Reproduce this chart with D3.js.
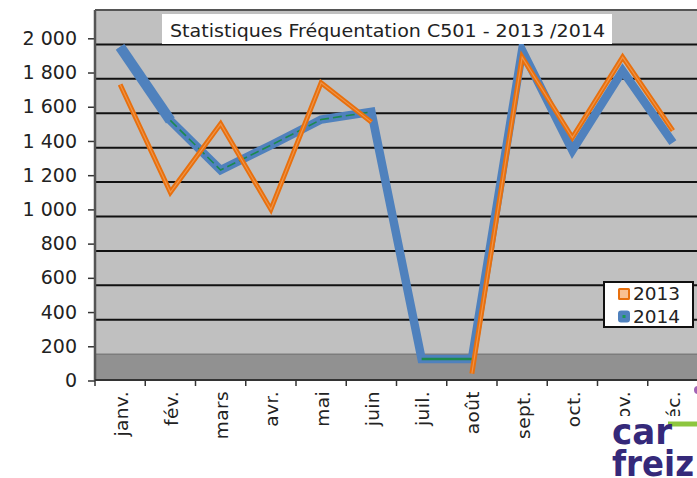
<!DOCTYPE html>
<html>
<head>
<meta charset="utf-8">
<script src="https://cdn.jsdelivr.net/npm/d3@7"></script>
<style>
  html, body { margin: 0; padding: 0; background: #fff; }
  svg { display: block; font-family: "DejaVu Sans", Verdana, sans-serif; }
</style>
</head>
<body>
<svg id="chart" width="697" height="478"></svg>
<script>
// Monthly visits, station C501
const months = ["janv.", "fév.", "mars", "avr.", "mai", "juin", "juil.", "août", "sept.", "oct.", "nov.", "déc."];
const visits2013 = [1730, 1100, 1500, 1000, 1740, 1510, null, 40, 1890, 1420, 1890, 1460];
const visits2014 = [1950, 1520, 1230, 1375, 1525, 1570, 125, 125, 1930, 1345, 1810, 1390];
const yTickValues = [0, 200, 400, 600, 800, 1000, 1200, 1400, 1600, 1800, 2000];
const seriesNames = ["2013", "2014"];
const chartTitle = "Statistiques Fréquentation C501 - 2013 /2014";

const svg = d3.select("#chart");
const W = 697, H = 478;
const plot = { left: 95, right: 698, top: 10, bottom: 380 };

const x = d3.scaleBand().domain(months).range([plot.left, plot.right]);
const cx = m => x(m) + x.bandwidth() / 2;
// front axis scale and the slightly receding back wall used for the gridlines
const y = d3.scaleLinear().domain([0, 2000]).range([380.5, 38.3]);
const yWall = d3.scaleLinear().domain([0, 2000]).range([388.6, 44.4]);

const frLocale = d3.formatLocale({ decimal: ",", thousands: " ", grouping: [3], currency: ["", " €"] });
const fmt = frLocale.format(",d");

// plot wall
svg.append("rect")
  .attr("x", plot.left).attr("y", plot.top)
  .attr("width", W - plot.left).attr("height", plot.bottom - plot.top)
  .attr("fill", "#c0c0c0");

// floor band
svg.append("rect")
  .attr("x", plot.left).attr("y", yWall(200))
  .attr("width", W - plot.left).attr("height", plot.bottom - yWall(200))
  .attr("fill", "#919191");
svg.append("line")
  .attr("x1", plot.left).attr("x2", W)
  .attr("y1", yWall(200)).attr("y2", yWall(200))
  .attr("stroke", "#7c7c7c").attr("stroke-width", 1.5);

// gridlines on the back wall
svg.append("g").selectAll("line")
  .data(yTickValues.filter(v => v >= 400))
  .join("line")
  .attr("x1", plot.left).attr("x2", W)
  .attr("y1", d => yWall(d)).attr("y2", d => yWall(d))
  .attr("stroke", "#111").attr("stroke-width", 2);

// top edge of the wall
svg.append("line")
  .attr("x1", plot.left).attr("x2", W)
  .attr("y1", plot.top).attr("y2", plot.top)
  .attr("stroke", "#555").attr("stroke-width", 2);

// y axis
const yAxis = svg.append("g")
  .attr("transform", `translate(${plot.left},0)`)
  .call(d3.axisLeft(y).tickValues(yTickValues).tickFormat(fmt).tickSize(7).tickPadding(11));
yAxis.select(".domain").remove();
yAxis.selectAll(".tick line").attr("stroke", "#333").attr("stroke-width", 1.5);
yAxis.selectAll(".tick text").attr("font-size", 19).attr("fill", "#222")
  .attr("font-family", "DejaVu Sans, Verdana, sans-serif");
svg.append("line")
  .attr("x1", plot.left).attr("x2", plot.left)
  .attr("y1", plot.top).attr("y2", plot.bottom)
  .attr("stroke", "#555").attr("stroke-width", 2.5);

// x axis line and category boundary ticks
svg.append("line")
  .attr("x1", plot.left).attr("x2", W)
  .attr("y1", plot.bottom).attr("y2", plot.bottom)
  .attr("stroke", "#333").attr("stroke-width", 2);
svg.append("g").selectAll("line")
  .data(months)
  .join("line")
  .attr("x1", d => x(d)).attr("x2", d => x(d))
  .attr("y1", plot.bottom).attr("y2", plot.bottom + 6)
  .attr("stroke", "#333").attr("stroke-width", 1.5);

// month labels
svg.append("g").selectAll("text")
  .data(months)
  .join("text")
  .attr("transform", d => `translate(${cx(d) + 1},${plot.bottom + 11}) rotate(-90)`)
  .attr("text-anchor", "end")
  .attr("dy", "0.35em")
  .attr("font-size", 18.5)
  .attr("letter-spacing", 0.4)
  .attr("fill", "#222")
  .text(d => d);

// series lines
const line = d3.line()
  .defined(d => d != null)
  .x((d, i) => cx(months[i]))
  .y(d => y(d));

// 2014: broad blue stroke with a thin green dashed core
svg.append("path")
  .attr("d", line(visits2014))
  .attr("fill", "none")
  .attr("stroke", "#4f81bd")
  .attr("stroke-width", 8.5)
  .attr("stroke-linejoin", "miter");
svg.append("path")
  .attr("d", line(visits2014.map((v, i) => i <= 1 ? v : null)))
  .attr("fill", "none")
  .attr("stroke", "#4f81bd")
  .attr("stroke-width", 10.5);
svg.append("path")
  .attr("d", line(visits2014.map((v, i) => (i >= 1 && i <= 5) ? v : null)))
  .attr("fill", "none")
  .attr("stroke", "#1c8a4e")
  .attr("stroke-width", 1.6)
  .attr("stroke-dasharray", "9,4");
svg.append("path")
  .attr("d", line(visits2014.map((v, i) => (i >= 6 && i <= 7) ? v : null)))
  .attr("fill", "none")
  .attr("stroke", "#1c8a4e")
  .attr("stroke-width", 2.5);

// 2013: orange stroke with a lighter core
svg.append("path")
  .attr("d", line(visits2013))
  .attr("fill", "none")
  .attr("stroke", "#e8700e")
  .attr("stroke-width", 5)
  .attr("stroke-linejoin", "miter");
svg.append("path")
  .attr("d", line(visits2013))
  .attr("fill", "none")
  .attr("stroke", "#f6b079")
  .attr("stroke-width", 1.2)
  .attr("stroke-opacity", 0.55);

// title
const titleG = svg.append("g");
titleG.append("rect")
  .attr("x", 162).attr("y", 14).attr("width", 450).attr("height", 30)
  .attr("fill", "#fff");
titleG.append("text")
  .attr("x", 170).attr("y", 36.5)
  .attr("font-size", 18)
  .attr("fill", "#222")
  .attr("textLength", 435)
  .attr("lengthAdjust", "spacingAndGlyphs")
  .text(chartTitle);

// legend
const legend = svg.append("g");
legend.append("rect")
  .attr("x", 604).attr("y", 282).attr("width", 89).attr("height", 45)
  .attr("fill", "#fff").attr("stroke", "#111").attr("stroke-width", 2);
const legendRows = legend.selectAll("g.row")
  .data(seriesNames)
  .join("g")
  .attr("class", "row")
  .attr("transform", (d, i) => `translate(618,${288 + i * 22.5})`);
legendRows.append("rect")
  .attr("x", 1).attr("y", 1).attr("width", 10).attr("height", 10)
  .attr("rx", (d, i) => i === 0 ? 0.5 : 2)
  .attr("fill", (d, i) => i === 0 ? "#f9c091" : "#4f81bd")
  .attr("stroke", (d, i) => i === 0 ? "#e8700e" : "#4f81bd")
  .attr("stroke-width", 2);
legendRows.filter((d, i) => i === 1).append("rect")
  .attr("x", 4.5).attr("y", 4.5).attr("width", 3).attr("height", 3)
  .attr("fill", "#1c9a50");
legendRows.append("text")
  .attr("x", 15).attr("y", 12)
  .attr("font-size", 18.5)
  .attr("fill", "#222")
  .text(d => d);

// club logo in the lower right corner
const logo = svg.append("g");
logo.append("rect")
  .attr("x", 611).attr("y", 416).attr("width", W - 611).attr("height", H - 416)
  .attr("fill", "#fff");
logo.append("line")
  .attr("x1", 668).attr("x2", W).attr("y1", 424).attr("y2", 424)
  .attr("stroke", "#8dc63f").attr("stroke-width", 5);
logo.append("circle")
  .attr("cx", 698).attr("cy", 390).attr("r", 4)
  .attr("fill", "#a263b5");
const logoText = logo.append("text")
  .attr("font-size", 36).attr("font-weight", "bold")
  .attr("fill", "#35297a")
  .attr("lengthAdjust", "spacingAndGlyphs");
logoText.append("tspan")
  .attr("x", 612).attr("y", 444)
  .attr("textLength", 60).attr("lengthAdjust", "spacingAndGlyphs")
  .text("car");
logoText.append("tspan")
  .attr("x", 612).attr("y", 476)
  .attr("textLength", 82).attr("lengthAdjust", "spacingAndGlyphs")
  .text("freiz");
</script>
</body>
</html>
